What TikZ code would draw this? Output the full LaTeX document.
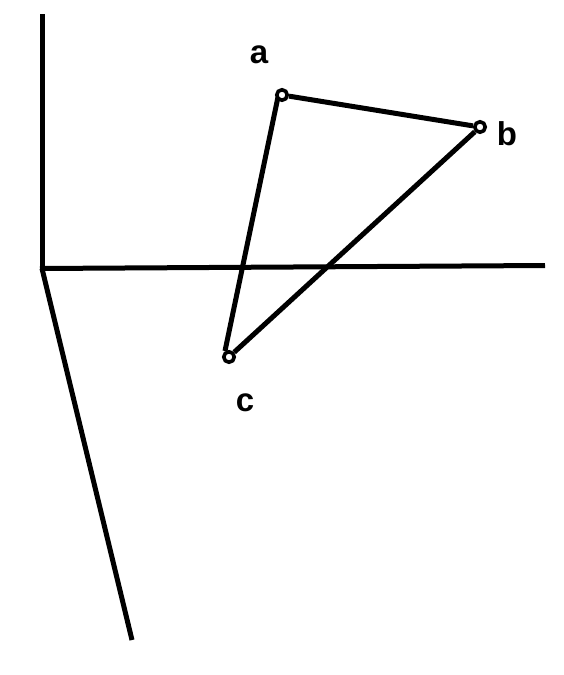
\documentclass[tikz,border=0pt]{standalone}
\usepackage{fontspec}
\setmainfont{Liberation Sans}
\begin{document}
\begin{tikzpicture}[x=1pt,y=-1pt,
  ln/.style={line width=5pt},
  vtx/.style={circle,draw,line width=3.6pt,minimum size=10.5pt,inner sep=0pt},
  lbl/.style={font=\fontsize{33}{36}\selectfont\bfseries}]
\useasboundingbox (0,0) rectangle (564,675);
\coordinate (top) at (42,14);
\coordinate (o) at (42,268.5);
\coordinate (xr) at (545,265.5);
\coordinate (zd) at (132,640);
\draw[ln] (top) -- (o);
\draw[ln] (40,268.5) coordinate (ol) -- (xr);
\draw[ln] (o) -- (zd);
\node[vtx] (a) at (282,95) {};
\node[vtx] (b) at (480,127) {};
\node[vtx] (c) at (229,357) {};
\coordinate (ac) at (278,97);
\coordinate (ca) at (225,351);
\draw[ln] (a) -- (b);
\draw[ln] (b) -- (c);
\draw[ln] (ca) -- (ac);
\node[lbl] (la) at (259,55) {a};
\node[lbl] (lb) at (507,134) {b};
\node[lbl] (lc) at (245,403) {c};
\end{tikzpicture}
\end{document}
